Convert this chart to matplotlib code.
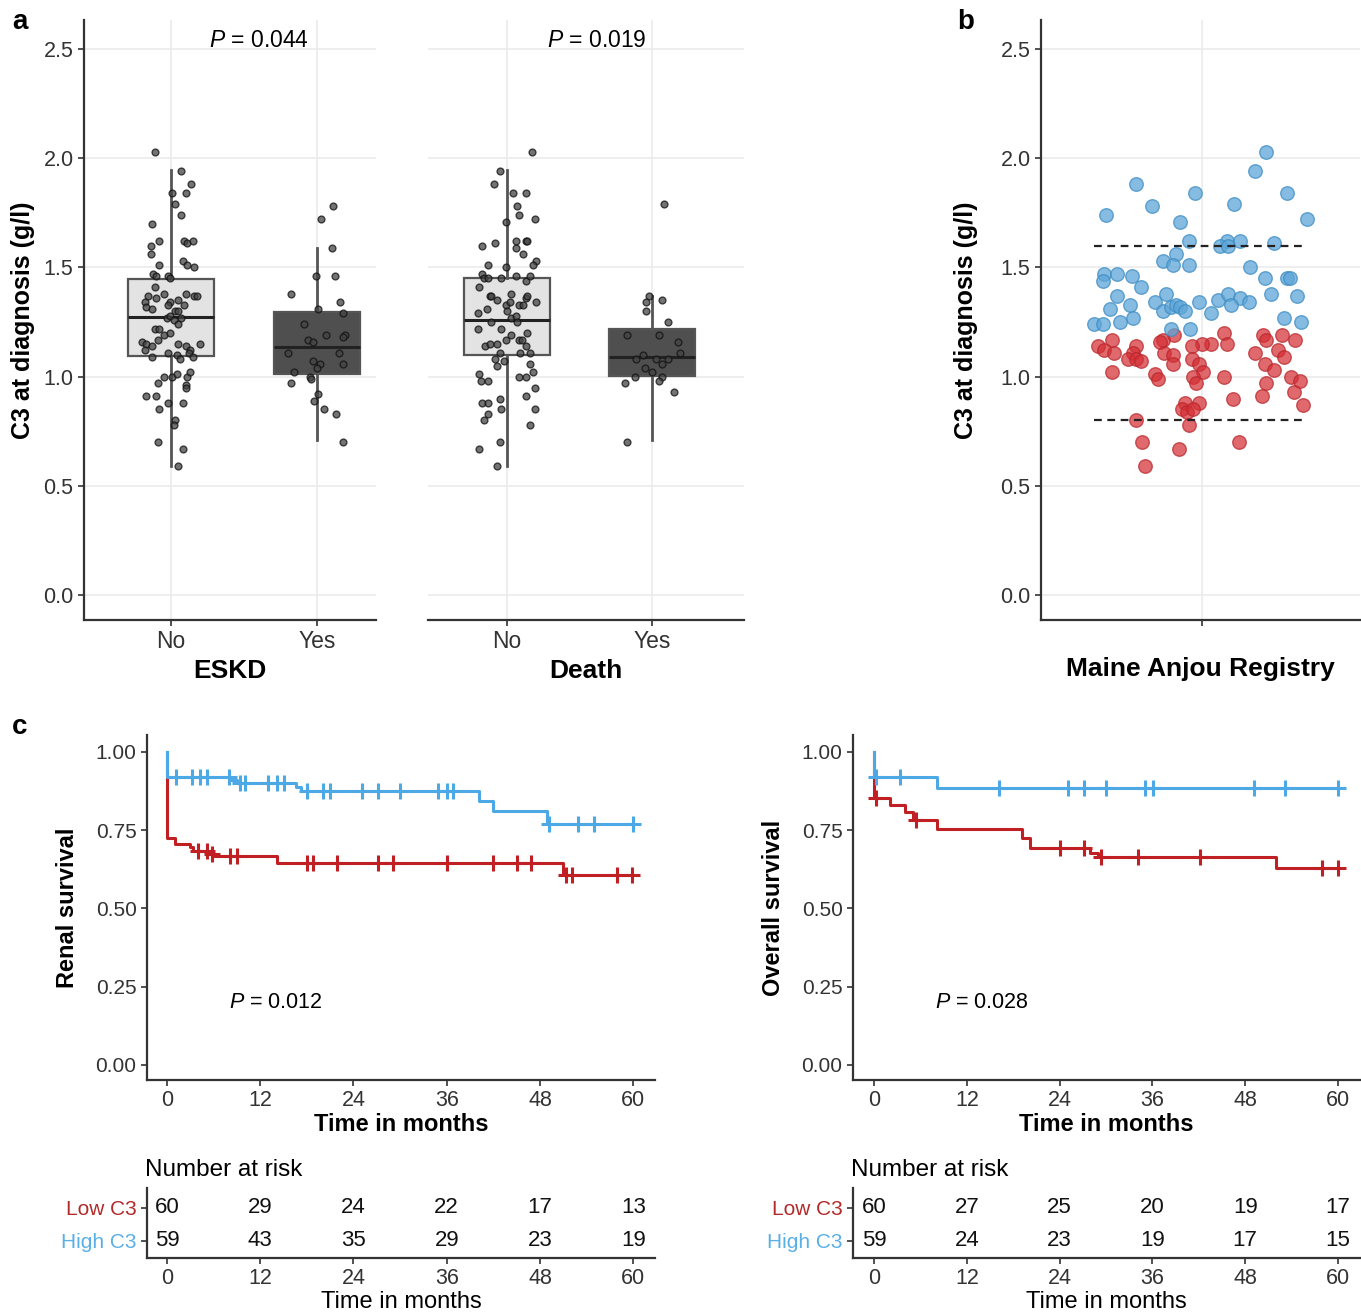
import numpy as np
import matplotlib
matplotlib.use('Agg')
import matplotlib.pyplot as plt

plt.rcParams['font.family'] = ['Liberation Sans', 'DejaVu Sans']
plt.rcParams['mathtext.fontset'] = 'custom'
plt.rcParams['mathtext.it'] = 'Liberation Sans:italic'
plt.rcParams['mathtext.rm'] = 'Liberation Sans'

# ---- panel a : C3 by outcome (jitter offset, value) ----
eskd_no_dx = [-0.11, 0.07, 0.01, 0.10, 0.14, 0.03, 0.07, -0.13, -0.14, -0.08, 0.09, 0.11, 0.15, -0.14, 0.08, 0.11,
              0.16, -0.08, -0.12, -0.10, -0.02, -0.01, -0.16, -0.11, -0.05, -0.10, -0.18, -0.17, -0.13, -0.01, -0.02,
              0.05, 0.10, 0.16, 0.18, 0.09, 0.03, 0.05, -0.03, -0.01, 0.07, 0.02, 0.05, -0.11, -0.08, -0.09, -0.05,
              -0.01, -0.20, -0.17, -0.13, -0.18, 0.05, 0.10, 0.13, 0.20, -0.02, 0.04, 0.06, 0.12, 0.15, -0.13, -0.05,
              0.01, 0.04, -0.09, 0.11, 0.13, 0.10, 0.10, -0.17, -0.10, -0.08, -0.02, 0.08, 0.03, 0.02, -0.09, 0.08, 0.05]
eskd_no_y = [2.03, 1.94, 1.84, 1.84, 1.88, 1.79, 1.74, 1.70, 1.60, 1.62, 1.62, 1.61, 1.62, 1.56, 1.53, 1.51,
             1.50, 1.51, 1.47, 1.46, 1.46, 1.45, 1.37, 1.41, 1.38, 1.36, 1.34, 1.32, 1.31, 1.34, 1.33,
             1.35, 1.38, 1.37, 1.37, 1.33, 1.30, 1.30, 1.27, 1.28, 1.27, 1.26, 1.24, 1.22, 1.22, 1.17, 1.19,
             1.20, 1.16, 1.15, 1.14, 1.12, 1.15, 1.14, 1.12, 1.15, 1.11, 1.10, 1.08, 1.11, 1.09, 1.09, 1.00,
             1.00, 1.01, 0.97, 1.00, 1.02, 0.96, 0.95, 0.91, 0.91, 0.85, 0.88, 0.88, 0.80, 0.78, 0.70, 0.67, 0.59]
eskd_yes_dx = [0.11, 0.03, 0.10, -0.01, 0.12, -0.18, 0.16, 0.01, 0.18, -0.09, 0.06, -0.06, -0.03, 0.19, 0.18,
               -0.20, 0.15, -0.03, 0.02, 0.00, 0.18, -0.16, -0.05, -0.04, -0.18, 0.01, -0.02, 0.05, 0.13, 0.18]
eskd_yes_y = [1.78, 1.72, 1.59, 1.46, 1.46, 1.38, 1.34, 1.31, 1.29, 1.24, 1.19, 1.17, 1.16, 1.19, 1.18,
              1.11, 1.11, 1.07, 1.06, 1.04, 1.06, 1.02, 1.00, 0.99, 0.97, 0.92, 0.89, 0.85, 0.83, 0.70]
death_no_dx = [0.17, -0.05, -0.09, 0.04, 0.13, 0.07, 0.08, -0.01, 0.19, -0.17, -0.08, 0.06, 0.06, 0.13, 0.14,
               0.11, 0.20, 0.18, -0.13, -0.01, -0.17, -0.16, -0.13, -0.04, 0.06, 0.13, 0.16, -0.19, -0.12,
               -0.11, -0.07, 0.03, 0.13, 0.14, -0.01, 0.02, 0.08, 0.11, 0.20, -0.20, -0.14, 0.00, 0.03, 0.06,
               0.07, -0.11, -0.20, -0.04, -0.01, 0.03, 0.08, 0.10, 0.14, -0.15, -0.12, -0.07, -0.05, 0.13, 0.16,
               0.09, -0.08, -0.07, -0.02, 0.16, 0.18, 0.08, 0.13, -0.19, -0.18, -0.13, 0.19, -0.05, 0.13, -0.17,
               -0.13, -0.04, 0.19, -0.13, -0.16, 0.16, -0.05, -0.19, -0.07]
death_no_y = [2.03, 1.94, 1.88, 1.84, 1.84, 1.78, 1.74, 1.71, 1.72, 1.60, 1.61, 1.62, 1.59, 1.62, 1.62,
              1.56, 1.53, 1.51, 1.51, 1.50, 1.47, 1.45, 1.45, 1.45, 1.46, 1.44, 1.46, 1.41, 1.37,
              1.37, 1.35, 1.38, 1.36, 1.37, 1.33, 1.34, 1.33, 1.33, 1.34, 1.29, 1.31, 1.30, 1.27, 1.28,
              1.25, 1.25, 1.22, 1.22, 1.17, 1.19, 1.17, 1.17, 1.20, 1.14, 1.15, 1.15, 1.11, 1.14, 1.11,
              1.11, 1.08, 1.05, 1.07, 1.06, 1.02, 1.00, 1.00, 1.01, 0.98, 0.98, 0.95, 0.90, 0.91, 0.88,
              0.88, 0.85, 0.85, 0.83, 0.80, 0.78, 0.70, 0.67, 0.59]
death_yes_dx = [0.08, -0.02, 0.07, -0.04, -0.04, 0.11, -0.17, 0.05, 0.18, -0.06, -0.11, 0.03, 0.11, 0.19,
                0.07, -0.05, 0.00, -0.12, 0.07, 0.05, -0.19, 0.15, -0.17]
death_yes_y = [1.79, 1.37, 1.35, 1.34, 1.30, 1.25, 1.19, 1.19, 1.16, 1.10, 1.08, 1.08, 1.08, 1.11,
               1.06, 1.04, 1.02, 1.00, 1.00, 0.98, 0.97, 0.93, 0.70]

# box summaries: (whislo, q1, median, q3, whishi)
eskd_box = [(0.593, 1.094, 1.273, 1.445, 1.945), (0.71, 1.012, 1.135, 1.295, 1.591)]
death_box = [(0.593, 1.100, 1.258, 1.453, 1.945), (0.71, 1.003, 1.092, 1.220, 1.369)]
groups = ['No', 'Yes']

# ---- panel b : registry C3 ----
high_dx = [0.44, 0.36, -0.45, -0.05, 0.58, 0.22, -0.34, -0.66, 0.72, -0.15, -0.09, 0.17, 0.26, 0.12, 0.18,
           0.49, -0.18, -0.27, -0.20, -0.09, 0.33, -0.67, -0.68, -0.58, -0.48, 0.43, 0.58, 0.60, -0.42,
           -0.58, -0.25, 0.47, 0.65, -0.49, -0.32, -0.63, -0.27, -0.21, -0.18, -0.15, -0.12, -0.02, 0.11,
           0.18, 0.26, 0.20, 0.32, 0.06, -0.56, -0.47, -0.74, -0.68, 0.56, 0.68, -0.21, -0.08]
high_y = [2.03, 1.94, 1.88, 1.84, 1.84, 1.79, 1.78, 1.74, 1.72, 1.71, 1.62, 1.62, 1.62, 1.60, 1.60,
          1.61, 1.56, 1.53, 1.51, 1.51, 1.50, 1.47, 1.44, 1.47, 1.46, 1.45, 1.45, 1.45, 1.41,
          1.37, 1.38, 1.38, 1.37, 1.33, 1.34, 1.31, 1.30, 1.32, 1.33, 1.32, 1.30, 1.34, 1.35,
          1.38, 1.36, 1.33, 1.34, 1.29, 1.25, 1.27, 1.24, 1.24, 1.27, 1.25, 1.22, 1.22]
low_dx = [-0.19, -0.27, -0.29, 0.15, 0.17, 0.06, 0.00, -0.07, -0.62, -0.71, -0.67, -0.60, -0.45, -0.47,
          -0.51, -0.45, -0.42, -0.26, -0.20, -0.20, -0.07, -0.02, 0.01, -0.06, -0.04, -0.62, -0.32, -0.30,
          0.15, 0.42, 0.44, 0.55, 0.64, 0.36, 0.52, 0.56, 0.43, 0.49, 0.61, 0.67, 0.44, 0.63, 0.41, 0.69,
          0.21, -0.12, -0.02, -0.14, -0.10, -0.06, -0.09, -0.45, -0.41, -0.16, -0.39, 0.25]
low_y = [1.19, 1.17, 1.16, 1.20, 1.15, 1.15, 1.15, 1.14, 1.17, 1.14, 1.12, 1.11, 1.14, 1.11,
         1.08, 1.08, 1.07, 1.11, 1.10, 1.06, 1.08, 1.06, 1.02, 1.00, 0.97, 1.02, 1.01, 0.99,
         1.00, 1.19, 1.17, 1.19, 1.17, 1.11, 1.12, 1.09, 1.06, 1.03, 1.00, 0.98, 0.97, 0.93, 0.91, 0.87,
         0.90, 0.88, 0.88, 0.85, 0.84, 0.85, 0.78, 0.80, 0.70, 0.67, 0.59, 0.70]
cutoffs = [1.6, 0.8]

# ---- panel c : Kaplan-Meier ----
months = [0, 12, 24, 36, 48, 60]
renal_high_t = [0, 8.2, 9.0, 16.6, 17.2, 40.1, 42.0, 48.9]
renal_high_s = [0.921, 0.911, 0.902, 0.889, 0.876, 0.843, 0.811, 0.770]
renal_high_cens = [1.1, 3.2, 4.2, 5.1, 8.0, 9.4, 10.0, 13.0, 14.1, 15.0, 18.0, 20.1, 21.0, 25.1, 27.1, 30.0,
                   34.9, 36.0, 36.8, 49.2, 52.9, 54.9, 60.0]
renal_low_t = [0, 1.0, 3.0, 3.4, 5.6, 6.0, 14.1, 51.0]
renal_low_s = [0.724, 0.706, 0.696, 0.682, 0.674, 0.666, 0.644, 0.607]
renal_low_cens = [4.0, 5.1, 5.75, 8.1, 9.0, 18.0, 18.8, 21.9, 27.1, 29.1, 36.0, 42.0, 45.0, 46.9, 51.4, 52.1,
                  57.9, 59.8]
overall_high_t = [0, 8.1]
overall_high_s = [0.919, 0.886]
overall_high_cens = [0.3, 3.3, 16.2, 25.1, 27.2, 30.0, 35.1, 36.1, 49.2, 53.2, 60.0]
overall_low_t = [0, 2.1, 4.0, 5.1, 8.1, 19.1, 20.2, 27.9, 29.0, 52.0]
overall_low_s = [0.852, 0.831, 0.809, 0.781, 0.753, 0.724, 0.694, 0.676, 0.663, 0.628]
overall_low_cens = [0.2, 5.4, 24.0, 27.1, 29.3, 34.1, 42.1, 58.0, 60.0]

renal_risk_low = [60, 29, 24, 22, 17, 13]
renal_risk_high = [59, 43, 35, 29, 23, 19]
overall_risk_low = [60, 27, 25, 20, 19, 17]
overall_risk_high = [59, 24, 23, 19, 17, 15]

RED = '#c01f24'
BLUE = '#4da9e6'
DARK = '#333333'
GRID = '#ebebeb'

W, H = 1361, 1314
fig = plt.figure(figsize=(W / 100, H / 100), dpi=100)


def add_ax(l, t, r, b):
    return fig.add_axes([l / W, 1 - b / H, (r - l) / W, (b - t) / H])


def style(ax, left=True):
    for s in ['top', 'right']:
        ax.spines[s].set_visible(False)
    ax.spines['left'].set_visible(left)
    for s in ['left', 'bottom']:
        ax.spines[s].set_color(DARK)
        ax.spines[s].set_linewidth(1.6)
    ax.tick_params(colors=DARK, width=1.2, length=4, labelcolor='#333333')


def box_panel(ax, box, no_dx, no_y, yes_dx, yes_y, xlim, left, xlabel, pval, ptxt):
    stats = [dict(whislo=b[0], q1=b[1], med=b[2], q3=b[3], whishi=b[4]) for b in box]
    bp = ax.bxp(stats, positions=[1, 2], widths=0.59, showfliers=False, showcaps=False,
                patch_artist=True, manage_ticks=False,
                whiskerprops=dict(color='#555555', lw=2),
                medianprops=dict(color='#222222', lw=2.2),
                boxprops=dict(edgecolor='#555555', lw=1.6))
    bp['boxes'][0].set_facecolor('#e3e3e3')
    bp['boxes'][1].set_facecolor('#4f4f4f')
    for i, (dx, yv) in enumerate([(no_dx, no_y), (yes_dx, yes_y)]):
        ax.scatter(i + 1 + np.array(dx), yv, s=24, facecolor='#444444', edgecolor='#111111',
                   lw=1.0, alpha=0.75, zorder=5)
    ax.set_xlim(*xlim)
    ax.set_ylim(-0.114, 2.633)
    ax.set_yticks([0, 0.5, 1.0, 1.5, 2.0, 2.5])
    ax.set_xticks([1, 2])
    ax.set_xticklabels(groups, fontsize=16.5)
    ax.grid(True, color=GRID, lw=1.2, zorder=0)
    ax.set_axisbelow(True)
    style(ax, left)
    if left:
        ax.set_yticklabels(['0.0', '0.5', '1.0', '1.5', '2.0', '2.5'], fontsize=15.5)
    else:
        ax.tick_params(axis='y', left=False, labelleft=False)
    ax.set_xlabel(xlabel, fontsize=19, fontweight='bold', labelpad=4)
    ax.text(ptxt, 2.537, '$P$ = ' + pval, fontsize=16.5, ha='center', va='center')


ax1 = add_ax(84, 20, 376, 620)
box_panel(ax1, eskd_box, eskd_no_dx, eskd_no_y, eskd_yes_dx, eskd_yes_y, (0.404, 2.404), True,
          'ESKD', '0.044', 1.60)
ax1.set_ylabel('C3 at diagnosis (g/l)', fontsize=18, fontweight='bold', labelpad=6)
ax2 = add_ax(428, 20, 744, 620)
box_panel(ax2, death_box, death_no_dx, death_no_y, death_yes_dx, death_yes_y, (0.455, 2.634), False,
          'Death', '0.019', 1.62)

# panel b
ax3 = add_ax(1041, 20, 1360, 620)
ax3.set_xlim(-0.103, 2.082)
ax3.set_ylim(-0.114, 2.633)
ax3.set_yticks([0, 0.5, 1.0, 1.5, 2.0, 2.5])
ax3.set_yticklabels(['0.0', '0.5', '1.0', '1.5', '2.0', '2.5'], fontsize=15.5)
ax3.set_xticks([1])
ax3.set_xticklabels([''])
ax3.grid(True, color=GRID, lw=1.2, zorder=0)
ax3.set_axisbelow(True)
style(ax3)
ax3.scatter(1 + np.array(low_dx), low_y, s=95, facecolor='#d42f35', edgecolor='#b8262b', lw=1.0,
            alpha=0.72, zorder=4)
ax3.scatter(1 + np.array(high_dx), high_y, s=95, facecolor='#5ea6d8', edgecolor='#3d8cc4', lw=1.0,
            alpha=0.75, zorder=4)
for c in cutoffs:
    ax3.hlines(c, 1 - 0.74, 1 + 0.71, colors='#222222', linestyles=(0, (3.5, 2.5)), lw=1.6, zorder=6)
ax3.set_xlabel('Maine Anjou Registry', fontsize=19, fontweight='bold', labelpad=19)
ax3.set_ylabel('C3 at diagnosis (g/l)', fontsize=18, fontweight='bold', labelpad=16)


def km(ax, t, s, cens, color):
    x = np.r_[0, t, 60]
    y = np.r_[1.0, s, s[-1]]
    ax.step(x, y, where='post', color=color, lw=2.2, zorder=3)
    idx = np.searchsorted(x, cens, side='right') - 1
    ax.plot(cens, y[idx], '+', color=color, ms=11, mew=2.2, zorder=4)


def km_panel(box_px, xlim, ylabel, high, low, pval):
    ax = add_ax(*box_px)
    ax.set_xlim(*xlim)
    ax.set_ylim(-0.048, 1.054)
    km(ax, low[0], low[1], low[2], RED)
    km(ax, high[0], high[1], high[2], BLUE)
    ax.set_xticks(months)
    ax.set_xticklabels([str(m) for m in months], fontsize=15.5)
    ax.set_yticks([0, 0.25, 0.5, 0.75, 1.0])
    ax.set_yticklabels(['0.00', '0.25', '0.50', '0.75', '1.00'], fontsize=15)
    style(ax)
    ax.set_xlabel('Time in months', fontsize=17, fontweight='bold', labelpad=1)
    ax.set_ylabel(ylabel, fontsize=17, fontweight='bold', labelpad=12)
    ax.text(14, 0.20, '$P$ = ' + pval, fontsize=15.5, ha='center', va='center')
    return ax


def risk_table(box_px, xlim, low, high):
    ax = add_ax(*box_px)
    ax.set_xlim(*xlim)
    ax.set_ylim(0.485, 2.6)
    style(ax)
    ax.set_xticks(months)
    ax.set_xticklabels([str(m) for m in months], fontsize=15.5)
    ax.set_yticks([2, 1])
    ax.set_yticklabels(['Low C3', 'High C3'], fontsize=15)
    ax.get_yticklabels()[0].set_color('#b22a2a')
    ax.get_yticklabels()[1].set_color('#5ab0e6')
    for m, a, b in zip(months, low, high):
        ax.text(m, 2, str(a), ha='center', va='center', fontsize=16, color='#111111')
        ax.text(m, 1, str(b), ha='center', va='center', fontsize=16, color='#111111')
    ax.set_xlabel('Time in months', fontsize=17, labelpad=1)
    ax.text(-0.003, 1.1, 'Number at risk', transform=ax.transAxes, fontsize=17.5, ha='left', va='bottom')
    return ax


km_panel((147, 735, 655, 1080), (-2.57, 62.8), 'Renal survival',
         (renal_high_t, renal_high_s, renal_high_cens), (renal_low_t, renal_low_s, renal_low_cens), '0.012')
km_panel((853, 735, 1360, 1080), (-2.72, 62.85), 'Overall survival',
         (overall_high_t, overall_high_s, overall_high_cens),
         (overall_low_t, overall_low_s, overall_low_cens), '0.028')
risk_table((147, 1188, 655, 1258), (-2.57, 62.8), renal_risk_low, renal_risk_high)
risk_table((853, 1188, 1360, 1258), (-2.72, 62.85), overall_risk_low, overall_risk_high)

for lab, x, y in [('a', 20, 22), ('b', 966, 22), ('c', 20, 727)]:
    fig.text(x / W, 1 - y / H, lab, fontsize=20, fontweight='bold', ha='center', va='center')

fig.savefig('out.png', dpi=100)
